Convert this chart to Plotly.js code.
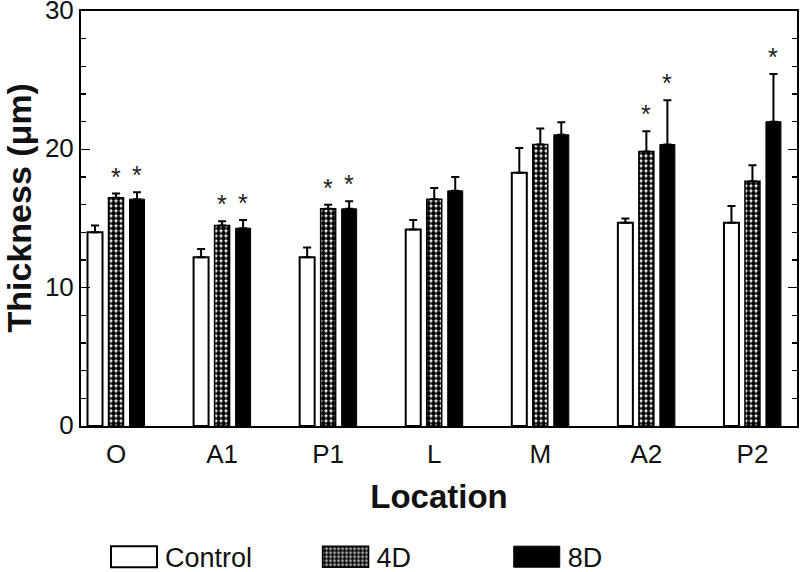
<!DOCTYPE html>
<html>
<head>
<meta charset="utf-8">
<script src="https://cdn.plot.ly/plotly-3.0.1.min.js"></script>
<style>html,body{margin:0;padding:0;background:#fff;}#chart{width:800px;height:572px;}</style>
</head>
<body>
<div id="chart"></div>
<script>
const categories = ['O', 'A1', 'P1', 'L', 'M', 'A2', 'P2'];
const seriesNames = ['Control', '4D', '8D'];
const controlMean = [14.0, 12.2, 12.2, 14.2, 18.3, 14.7, 14.7];
const controlErr  = [0.5, 0.6, 0.7, 0.7, 1.8, 0.3, 1.2];
const d4Mean = [16.5, 14.5, 15.7, 16.4, 20.35, 19.85, 17.7];
const d4Err  = [0.3, 0.3, 0.3, 0.8, 1.15, 1.45, 1.15];
const d8Mean = [16.4, 14.3, 15.7, 17.0, 21.05, 20.35, 22.0];
const d8Err  = [0.5, 0.6, 0.55, 1.0, 0.9, 3.2, 3.45];
const d4Sig = [1, 1, 1, 0, 0, 1, 0];
const d8Sig = [1, 1, 1, 0, 0, 1, 1];
const yTickVals = [0, 10, 20, 30];
const xTitle = 'Location';
const yTitle = 'Thickness (μm)';

const FONT = 'Liberation Sans, Arial, sans-serif';
const BARGAP = 0.406;
const zeros = categories.map(() => 0);

function errBar(arr) {
  return {type: 'data', symmetric: false, array: arr, arrayminus: zeros,
          color: '#000', thickness: 2, width: 4};
}

const traces = [
  {type: 'bar', name: seriesNames[0], x: categories, y: controlMean, legend: 'legend',
   marker: {color: '#fff', line: {color: '#000', width: 2}},
   error_y: errBar(controlErr)},
  {type: 'bar', name: seriesNames[1], x: categories, y: d4Mean, legend: 'legend2',
   marker: {color: '#fff', line: {color: '#000', width: 1.5},
            pattern: {shape: '.', fgcolor: '#000', bgcolor: '#fff', size: 5, solidity: 0.72}},
   error_y: errBar(d4Err)},
  {type: 'bar', name: seriesNames[2], x: categories, y: d8Mean, legend: 'legend3',
   marker: {color: '#000', line: {color: '#000', width: 1}},
   error_y: errBar(d8Err)}
];

const slot = (1 - BARGAP) / 3;
const annotations = [];
[[d4Mean, d4Err, d4Sig, 0], [d8Mean, d8Err, d8Sig, 1]].forEach(([m, e, s, k]) => {
  categories.forEach((c, i) => {
    if (s[i]) {
      annotations.push({xref: 'x', yref: 'y', x: i + k * slot, y: m[i] + e[i],
        text: '*', showarrow: false, yanchor: 'bottom', yshift: 1,
        font: {family: FONT, size: 25, color: '#222'}});
    }
  });
});
// y-axis title (placed as a rotated annotation so it can sit slightly above the axis centre)
annotations.push({xref: 'paper', yref: 'paper', x: -0.0865, y: 0.5243, xanchor: 'center', yanchor: 'middle',
  text: yTitle, textangle: -90, showarrow: false,
  font: {family: FONT, size: 34, color: '#111', weight: 'bold'}});

function legendCfg(xp) {
  return {x: xp, y: -0.316, xref: 'paper', yref: 'paper', xanchor: 'left', yanchor: 'middle',
          orientation: 'h', bgcolor: 'rgba(0,0,0,0)', borderwidth: 0, itemwidth: 50,
          font: {family: FONT, size: 27, color: '#111'}};
}

const layout = {
  width: 800, height: 572,
  margin: {l: 81, r: 3, t: 11, b: 146, pad: 0, autoexpand: false},
  paper_bgcolor: '#fff', plot_bgcolor: '#fff',
  font: {family: FONT, color: '#111'},
  barmode: 'group', bargap: BARGAP, bargroupgap: 0.286,
  showlegend: true,
  legend: legendCfg(0.0335),
  legend2: legendCfg(0.329),
  legend3: legendCfg(0.596),
  xaxis: {
    type: 'category', range: [-0.33, 6.42],
    showline: true, linecolor: '#000', linewidth: 2, mirror: true,
    ticks: '', showgrid: false, zeroline: false, ticklabelstandoff: 4,
    tickfont: {family: FONT, size: 26, color: '#111'},
    title: {text: xTitle, font: {family: FONT, size: 33, color: '#111', weight: 'bold'}, standoff: 17}
  },
  yaxis: {
    range: [0, 30], tickvals: yTickVals, ticktext: yTickVals.map(String),
    ticklabeloverflow: 'allow', ticklabelshift: -1,
    showline: true, linecolor: '#000', linewidth: 2, mirror: 'ticks',
    ticks: 'inside', ticklen: 9, tickwidth: 1.5, tickcolor: '#000',
    minor: {dtick: 2, ticks: 'inside', ticklen: 5, tickwidth: 1.5, tickcolor: '#000'},
    showgrid: false, zeroline: false,
    tickfont: {family: FONT, size: 26, color: '#111'}
  },
  annotations: annotations
};

Plotly.newPlot('chart', traces, layout, {displayModeBar: false, staticPlot: true}).then(() => {
  document.querySelectorAll('.legendpoints path').forEach(p => {
    p.setAttribute('d', 'M22,10.5H-24V-10.5H22Z');
  });
});
</script>
</body>
</html>
